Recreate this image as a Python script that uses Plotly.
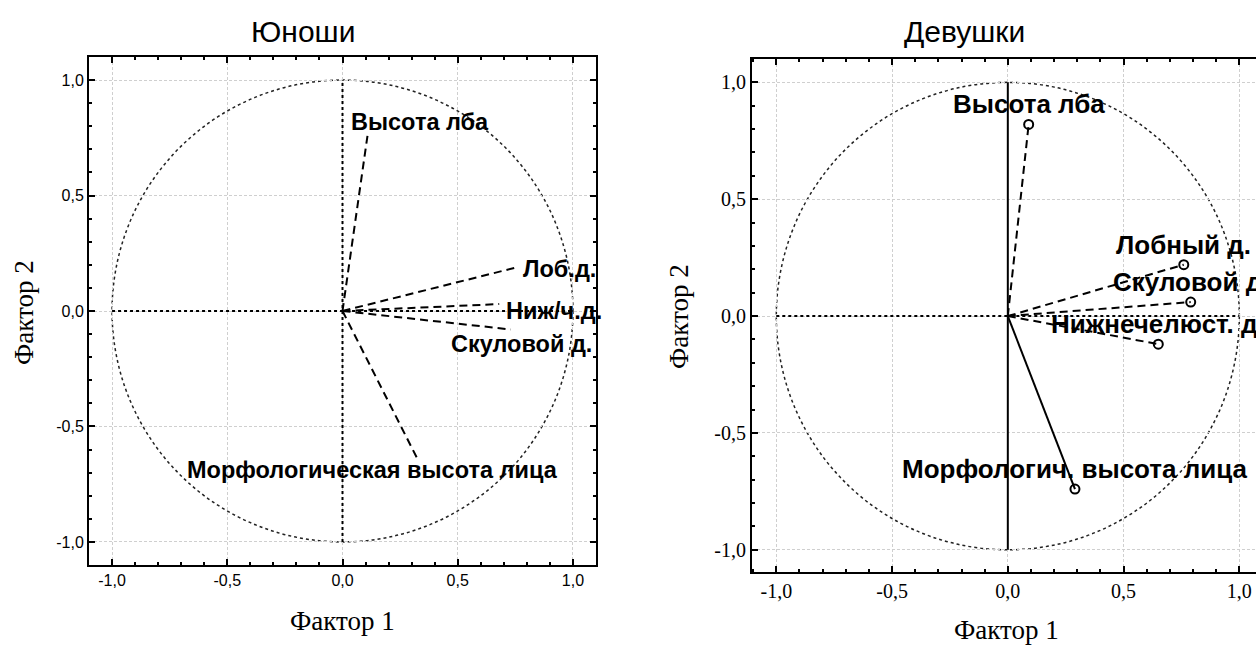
import plotly.graph_objects as go

# Factor loadings (Фактор 1, Фактор 2) for facial measurements
boys_vars = ["Высота лба", "Лоб.д.", "Ниж/ч.д.", "Скуловой д.", "Морфологическая высота лица"]
boys_f1 = [0.11, 0.76, 0.68, 0.73, 0.33]
boys_f2 = [0.77, 0.19, 0.03, -0.08, -0.65]

girls_vars = ["Высота лба", "Лобный д.", "Скуловой д.", "Нижнечелюст. д.", "Морфологич. высота лица"]
girls_f1 = [0.09, 0.76, 0.79, 0.65, 0.29]
girls_f2 = [0.82, 0.22, 0.06, -0.12, -0.74]

tick_vals = [-1.0, -0.5, 0.0, 0.5, 1.0]
tick_text = ["-1,0", "-0,5", "0,0", "0,5", "1,0"]

# hand-placed label anchors (left edge, vertical middle) for the boys' panel
boys_label_pos = [(0.03, 0.82), (0.775, 0.18), (0.70, 0.0), (0.46, -0.145), (-0.685, -0.69)]

SANS = "Liberation Sans, Arial, sans-serif"
SERIF = "Liberation Serif, Times New Roman, serif"
W, H = 1256, 646

fig = go.Figure()

# unit-circle axes cross
fig.add_trace(go.Scatter(x=[-1, 1], y=[0, 0], mode="lines", xaxis="x", yaxis="y",
                         line=dict(color="black", width=2, dash="dot"), hoverinfo="skip"))
fig.add_trace(go.Scatter(x=[0, 0], y=[-1, 1], mode="lines", xaxis="x", yaxis="y",
                         line=dict(color="black", width=2, dash="dot"), hoverinfo="skip"))
fig.add_trace(go.Scatter(x=[-1, 1], y=[0, 0], mode="lines", xaxis="x2", yaxis="y2",
                         line=dict(color="black", width=2, dash="dot"), hoverinfo="skip"))
fig.add_trace(go.Scatter(x=[0, 0], y=[-1, 1], mode="lines", xaxis="x2", yaxis="y2",
                         line=dict(color="black", width=2), hoverinfo="skip"))

# loading vectors, boys
for name, fx, fy in zip(boys_vars, boys_f1, boys_f2):
    fig.add_trace(go.Scatter(x=[0, fx], y=[0, fy], mode="lines", name=name,
                             xaxis="x", yaxis="y",
                             line=dict(color="black", width=2, dash="8px,5px")))

# loading vectors, girls
for i, (name, fx, fy) in enumerate(zip(girls_vars, girls_f1, girls_f2)):
    dash = "solid" if i == len(girls_vars) - 1 else "8px,5px"
    fig.add_trace(go.Scatter(x=[0, fx], y=[0, fy], mode="lines", name=name,
                             xaxis="x2", yaxis="y2",
                             line=dict(color="black", width=2, dash=dash)))
    fig.add_trace(go.Scatter(x=[fx], y=[fy], mode="markers", name=name,
                             xaxis="x2", yaxis="y2",
                             marker=dict(symbol="circle-open", size=9, color="black",
                                         line=dict(width=2))))

annotations = []
for name, (lx, ly) in zip(boys_vars, boys_label_pos):
    annotations.append(dict(x=lx, y=ly, xref="x", yref="y", text=name, showarrow=False,
                            xanchor="left", yanchor="middle",
                            font=dict(family=SANS, size=23.5, color="black", weight="bold")))
for name, fx, fy in zip(girls_vars, girls_f1, girls_f2):
    annotations.append(dict(x=fx, y=fy, xref="x2", yref="y2", text=name, showarrow=False,
                            xanchor="center", yanchor="middle", yshift=20,
                            font=dict(family=SANS, size=26, color="black", weight="bold")))

def px(xp, yp):
    return xp / W, 1 - yp / H

for text, (xp, yp), fam, size, angle in [
    ("Юноши", (303, 31), SANS, 30, 0),
    ("Девушки", (964, 31), SANS, 30, 0),
    ("Фактор 1", (342, 621), SERIF, 27, 0),
    ("Фактор 1", (1006, 630), SERIF, 27, 0),
    ("Фактор 2", (24, 313), SERIF, 27, -90),
    ("Фактор 2", (679, 317), SERIF, 27, -90),
]:
    ax, ay = px(xp, yp)
    annotations.append(dict(x=ax, y=ay, xref="paper", yref="paper", text=text,
                            showarrow=False, xanchor="center", yanchor="middle",
                            textangle=angle, font=dict(family=fam, size=size, color="black")))

shapes = [
    dict(type="circle", xref="x", yref="y", x0=-1, x1=1, y0=-1, y1=1,
         line=dict(color="#222222", width=1.5, dash="dot"), layer="below"),
    dict(type="circle", xref="x2", yref="y2", x0=-1, x1=1, y0=-1, y1=1,
         line=dict(color="#222222", width=1.5, dash="dot"), layer="below"),
]


def axis(domain, rng, font, mirror, anchor):
    return dict(domain=domain, range=rng, anchor=anchor,
                tickmode="array", tickvals=tick_vals, ticktext=tick_text,
                ticks="inside", ticklen=6, tickwidth=1.5, tickcolor="black",
                minor=dict(tickmode="linear", tick0=-1, dtick=0.1, ticks="inside",
                           ticklen=3, tickwidth=1.5, tickcolor="black", showgrid=False),
                showline=True, linecolor="black", linewidth=2, mirror=mirror,
                showgrid=True, gridcolor="#cfcfcf", griddash="3px,2px", gridwidth=1,
                zeroline=False, tickfont=font, fixedrange=True)


left_font = dict(family=SANS, size=16, color="black")
right_font = dict(family=SERIF, size=20, color="black")

fig.update_layout(
    width=W, height=H, margin=dict(l=0, r=0, t=0, b=0),
    paper_bgcolor="white", plot_bgcolor="white", showlegend=False,
    xaxis=axis([89 / W, 596 / W], [-1.1, 1.1], left_font, "ticks", "y"),
    yaxis=axis([1 - 565 / H, 1 - 57 / H], [-1.1, 1.1], left_font, "ticks", "x"),
    xaxis2=axis([752 / W, 1.0], [-1.105, 1.072], right_font, "ticks", "y2"),
    yaxis2=axis([1 - 572 / H, 1 - 59 / H], [-1.095, 1.1], right_font, False, "x2"),
    annotations=annotations, shapes=shapes,
)

fig.write_html("out.html")
